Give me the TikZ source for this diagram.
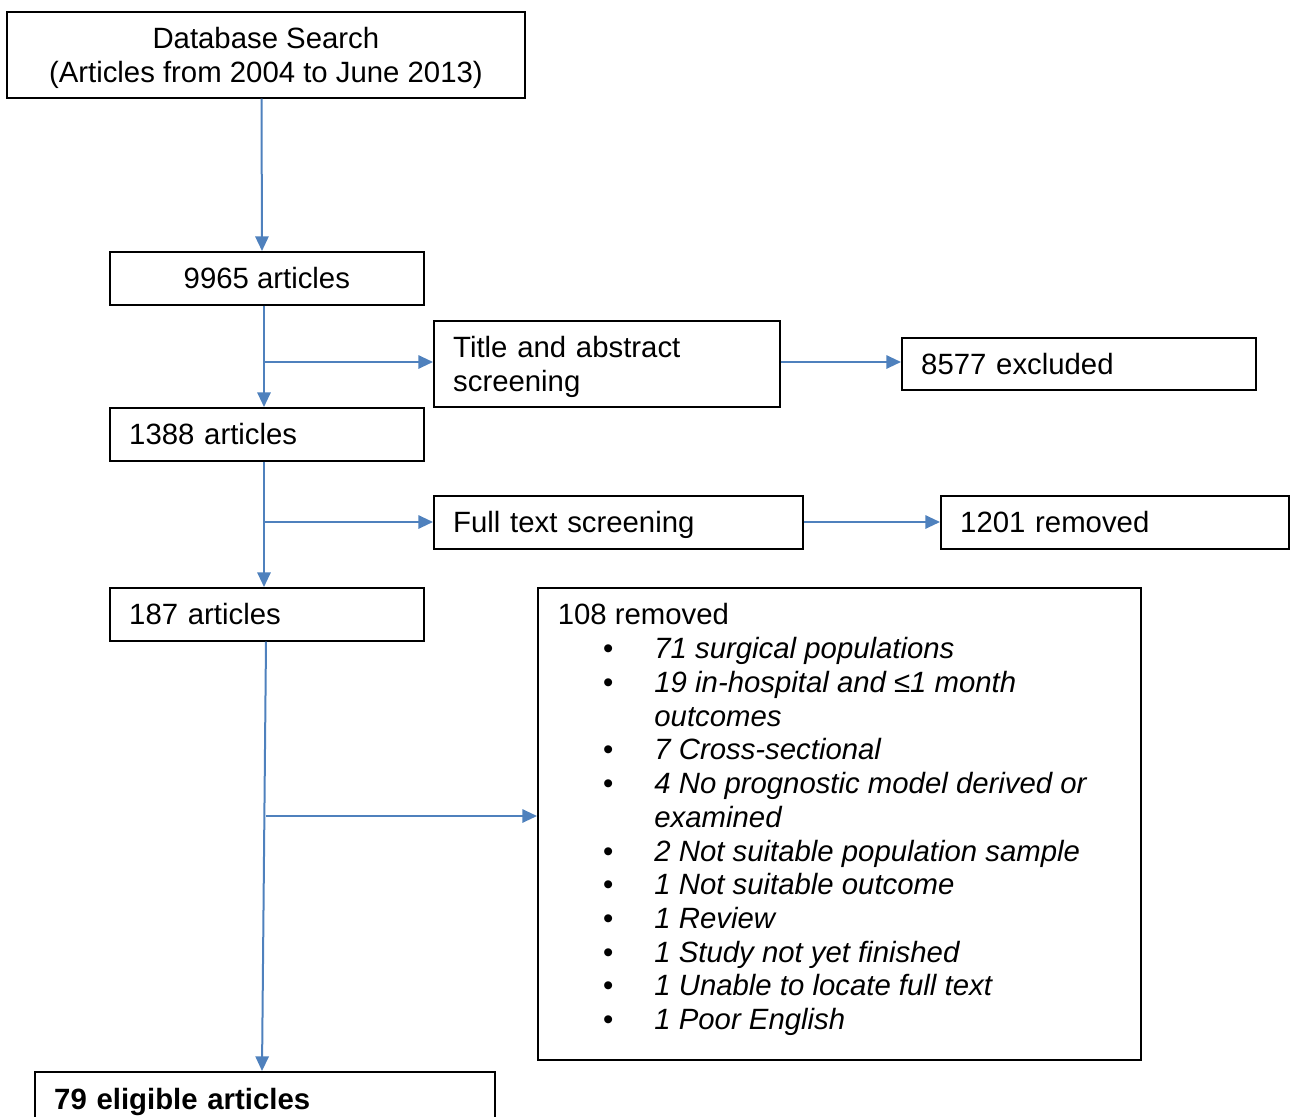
\documentclass[tikz,border=0pt]{standalone}
\usepackage{fontspec}
\setmainfont{Liberation Sans}
\usetikzlibrary{arrows.meta}
\definecolor{arrblue}{HTML}{4F81BD}
\newcommand\fs{\fontsize{22pt}{25.3pt}\selectfont}
\tikzset{
  box/.style={draw=black, line width=1.3pt, rectangle, inner ysep=0pt, anchor=north west, font=\fs, text depth=0pt},
  lbox/.style={box, align=left, inner xsep=14.5pt, text width=#1},
  cbox/.style={box, align=center, inner xsep=0pt},
  arr/.style={draw=arrblue, line width=1.5pt, -{Triangle[length=11pt,width=10pt]}},
}
\begin{document}
\begin{tikzpicture}[x=0.75pt,y=-0.75pt]
\useasboundingbox (0,0) rectangle (1290,1117);
% boxes
\node[cbox, minimum width=388.5pt, minimum height=64.5pt] (db) at (6,11)
  {Database Search\\(Articles from 2004 to June 2013)};
\node[cbox, minimum width=235.5pt, minimum height=39.75pt] (n9965) at (109,251) {9965 articles};
\node[lbox=230.5pt, minimum width=259.5pt, minimum height=64.5pt, text depth=25.3pt] (title) at (433,320)
  {Title and abstract\\screening};
\node[lbox=236.5pt, minimum width=265.5pt, minimum height=39pt] (excl) at (901,337) {8577 excluded};
\node[lbox=206.5pt, minimum width=235.5pt, minimum height=39.75pt] (n1388) at (109,407) {1388 articles};
\node[lbox=247.75pt, minimum width=276.75pt, minimum height=39.75pt] (full) at (433,495) {Full text screening};
\node[lbox=232pt, minimum width=261pt, minimum height=39.75pt] (rem1201) at (940,495) {1201 removed};
\node[lbox=206.5pt, minimum width=235.5pt, minimum height=39.75pt] (n187) at (109,587) {187 articles};
\node[box, minimum width=452.25pt, minimum height=354pt] (rem108) at (537,587) {};
\node[anchor=north west, inner sep=0pt, font=\fs] (rem108txt) at (557.5,601) {%
  \begin{tabular}{@{}p{72.5pt}@{}l@{}}
  \multicolumn{2}{@{}l@{}}{108 removed}\\
  \hspace*{34pt}\textbullet & \itshape 71 surgical populations\\
  \hspace*{34pt}\textbullet & \itshape 19 in-hospital and ≤1 month\\
   & \itshape outcomes\\
  \hspace*{34pt}\textbullet & \itshape 7 Cross-sectional\\
  \hspace*{34pt}\textbullet & \itshape 4 No prognostic model derived or\\
   & \itshape examined\\
  \hspace*{34pt}\textbullet & \itshape 2 Not suitable population sample\\
  \hspace*{34pt}\textbullet & \itshape 1 Not suitable outcome\\
  \hspace*{34pt}\textbullet & \itshape 1 Review\\
  \hspace*{34pt}\textbullet & \itshape 1 Study not yet finished\\
  \hspace*{34pt}\textbullet & \itshape 1 Unable to locate full text\\
  \hspace*{34pt}\textbullet & \itshape 1 Poor English
  \end{tabular}};
\node[lbox=316pt, minimum width=345pt, minimum height=40.5pt, font=\fs\bfseries] (elig) at (34,1071) {79 eligible articles};
% connectors
\coordinate (j1) at (264,362);
\coordinate (j2) at (264,522);
\coordinate (j3) at (265.5,816);
\draw[arr] (db.south -| 261.5,0) -- (n9965.north -| 262,0);
\draw[arr] (n9965.south -| j1) -- (n1388.north -| j1);
\draw[arr] (j1) -- (title.west |- j1);
\draw[arr] (title.east |- j1) -- (excl.west |- j1);
\draw[arr] (n1388.south -| j2) -- (n187.north -| j2);
\draw[arr] (j2) -- (full.west |- j2);
\draw[arr] (full.east |- j2) -- (rem1201.west |- j2);
\draw[arr] (n187.south -| 266,0) -- (elig.north -| 262,0);
\draw[arr] (j3) -- (rem108.west |- j3);
\end{tikzpicture}
\end{document}
